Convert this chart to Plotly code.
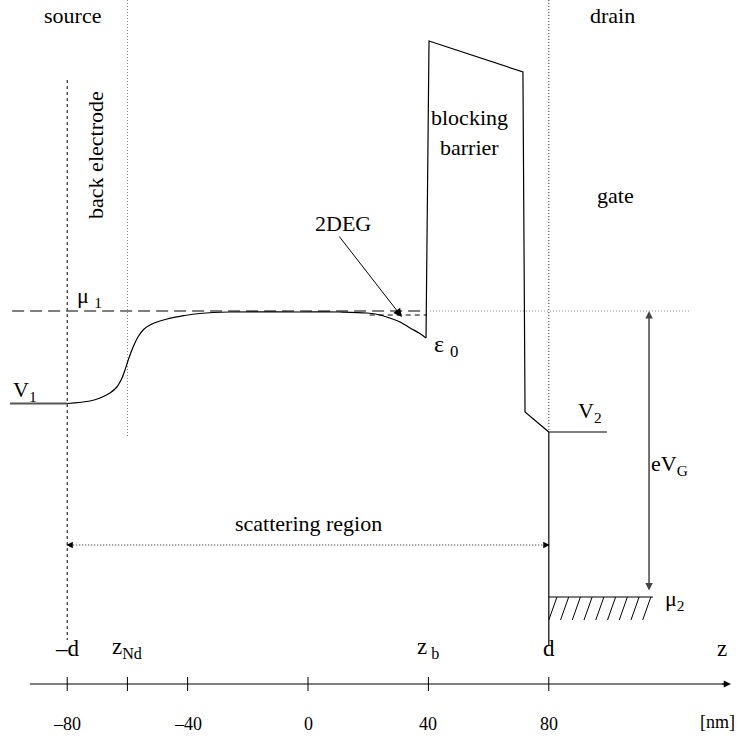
import plotly.graph_objects as go

# ---- band-profile values (z in nm, energy in arbitrary units, mu_1 = 0) ----
MU1 = 0.0
MU2 = -286.0
V1 = -92.5
V2 = -121.0
EPS0 = -4.0

Z_D = 80.0          # contact position d
Z_ND = -60.0        # donor layer z_Nd
Z_B = 40.0          # barrier edge z_b

# conduction-band edge from the back electrode to the 2DEG
z_profile = [-80, -72.4, -69.1, -65.8, -63.5, -62.1, -60.8, -59.5, -58.1, -56.5,
             -54.8, -52.5, -46.8, -40.9, -35.9, -25.9, -2.7, 10.6, 19.6, 23.9,
             27.2, 30.6, 33.9, 36.9, 39.2]
e_profile = [-92.5, -90, -87, -82, -76, -69, -59, -47, -36, -26,
             -19, -14, -8, -4.5, -2.5, -1, -1, -1, -2, -4,
             -7, -11, -17, -22, -27]

# blocking barrier and the drop to the drain
z_barrier = [39.2, 40.2, 71.4, 72.1, 80.0]
e_barrier = [-27, 270, 239, -101, -121]

tick_values = [-80, -60, -40, 0, 40, 80]
tick_labels = {-80: "\u201380", -40: "\u201340", 0: "0", 40: "40", 80: "80"}
axis_symbols = [(-80, "\u2013d"), (-60, "z<sub>Nd</sub>"), (40, "z<sub> b</sub>"),
                (80, "d"), (137.5, "z")]

FONT = "Liberation Serif"
BLACK = "#000000"
GREY = "#555555"

fig = go.Figure()


def seg(x, y, color=BLACK, width=1.2, dash="solid", shape="linear"):
    fig.add_trace(go.Scatter(x=x, y=y, mode="lines", hoverinfo="skip",
                             line=dict(color=color, width=width, dash=dash, shape=shape)))


# vertical guide lines
seg([-80, -80], [231, -329], BLACK, 1.0, "3px,3px")
seg([Z_ND, Z_ND], [311, -127], "#777777", 1.0, "1px,2px")
seg([Z_D, Z_D], [311, -119], BLACK, 0.8, "1px,2px")
seg([Z_D, Z_D], [V2, -334], BLACK, 1.2)

# chemical potential of the source and its continuation
seg([-98.3, 39.5], [MU1, MU1], GREY, 1.6, "12px,6px")
seg([40.5, 126.9], [MU1, MU1], "#777777", 0.9, "1px,2px")
# subband energy of the 2DEG
seg([20.5, 39.5], [EPS0, EPS0], BLACK, 1.0, "5px,4px")

# band edge
seg([-99.0, -80.0], [V1, V1], GREY, 1.8)
seg(z_profile, e_profile, BLACK, 1.2, shape="spline")
seg(z_barrier, e_barrier, BLACK, 1.2)
seg([80.0, 99.3], [V2, V2], BLACK, 1.2)

# drain Fermi level with hatching
seg([80.0, 114.6], [MU2, MU2], BLACK, 1.2)
hx, hy = [], []
z_h = 82.7
while z_h < 114.6:
    hx += [z_h, z_h - 2.7, None]
    hy += [MU2, MU2 - 23, None]
    z_h += 3.9
seg(hx, hy, BLACK, 1.0)

# scattering region (dotted, arrows at both ends)
seg([-79, 79], [-234, -234], BLACK, 0.9, "1px,2px")

# z axis
seg([-92.4, 139.0], [-373, -373], BLACK, 1.2)
tx, ty = [], []
for t in tick_values:
    tx += [t, t, None]
    ty += [-366, -380, None]
seg(tx, ty, BLACK, 1.0)

annotations = []


def arrow(x, y, ax, ay, color=BLACK, width=1.0, head=2, size=1.0, side="end"):
    annotations.append(dict(x=x, y=y, ax=ax, ay=ay, xref="x", yref="y", axref="x", ayref="y",
                            text="", showarrow=True, arrowhead=head, arrowsize=size,
                            arrowwidth=width, arrowcolor=color, arrowside=side))


arrow(140.5, -373, 137.0, -373, width=1.2, head=2, size=1.2)
arrow(-80.3, -234, -78.0, -234, width=1.0, head=2, size=1.3)
arrow(80.3, -234, 78.0, -234, width=1.0, head=2, size=1.3)
arrow(113.3, MU1, 113.3, MU2 + 5, color="#444444", width=1.5, head=2, size=1.0, side="end+start")
arrow(31.2, -6, 10.0, 76, width=1.0, head=2, size=1.7)


def label(x, y, text, size=22, angle=0, anchor="center"):
    annotations.append(dict(x=x, y=y, xref="x", yref="y", text=text, showarrow=False,
                            textangle=angle, xanchor=anchor, yanchor="middle",
                            font=dict(family=FONT, size=size, color=BLACK)))


label(-78.1, 296, "source")
label(101.0, 296, "drain")
label(-70.8, 156, "back electrode", angle=-90)
label(-72.5, 14, "\u03bc <sub>1</sub>")
label(-94.0, -80, "V<sub>1</sub>")
label(46.0, -35, "\u03b5 <sub>0</sub>", size=24)
label(11.6, 88, "2DEG")
label(53.8, 194, "blocking")
label(53.8, 164, "barrier")
label(102.0, 116, "gate")
label(93.7, -101, "V<sub>2</sub>")
label(120.0, -154, "eV<sub>G</sub>")
label(0.0, -212, "scattering region")
label(122.0, -289, "\u03bc<sub>2</sub>")
for zx, txt in axis_symbols:
    label(zx, -337, txt, size=23)
for t, txt in tick_labels.items():
    label(t, -413, txt, size=18)
label(136.2, -411, "[nm]", size=18)

fig.update_layout(
    width=737, height=742,
    margin=dict(l=0, r=0, t=0, b=0),
    paper_bgcolor="white", plot_bgcolor="white",
    showlegend=False,
    xaxis=dict(range=[-102.33, 142.52], visible=False, fixedrange=True),
    yaxis=dict(range=[-431, 311], visible=False, fixedrange=True),
    annotations=annotations,
)

fig.write_html("out.html")
